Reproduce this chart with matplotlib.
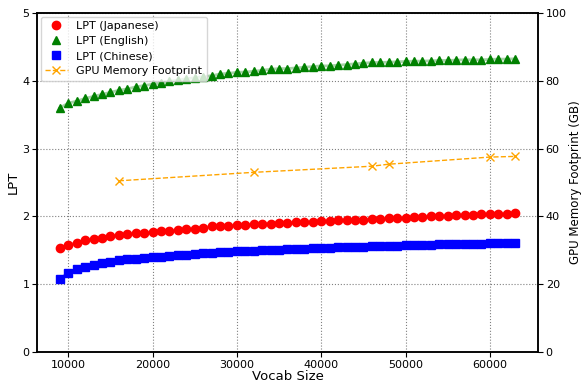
import matplotlib
matplotlib.use("Agg")
import matplotlib.pyplot as plt

vocab = list(range(9000, 64000, 1000))

lpt_japanese = [1.537, 1.58, 1.615, 1.645, 1.665, 1.685, 1.71, 1.72, 1.735, 1.75,
                1.76, 1.77, 1.78, 1.785, 1.795, 1.81, 1.82, 1.835, 1.855, 1.86,
                1.865, 1.87, 1.88, 1.885, 1.89, 1.895, 1.90, 1.91, 1.915, 1.92,
                1.92, 1.93, 1.935, 1.94, 1.94, 1.95, 1.95, 1.96, 1.96, 1.97,
                1.97, 1.98, 1.99, 1.995, 2.0, 2.005, 2.01, 2.015, 2.02, 2.025,
                2.03, 2.03, 2.035, 2.04, 2.045]

lpt_english = [3.60, 3.67, 3.70, 3.74, 3.77, 3.80, 3.83, 3.86, 3.88, 3.91,
               3.93, 3.95, 3.97, 3.99, 4.01, 4.03, 4.045, 4.06, 4.075, 4.10,
               4.11, 4.125, 4.13, 4.14, 4.155, 4.17, 4.18, 4.18, 4.19, 4.20,
               4.21, 4.22, 4.22, 4.23, 4.24, 4.25, 4.26, 4.27, 4.27, 4.275,
               4.28, 4.285, 4.29, 4.29, 4.295, 4.30, 4.30, 4.305, 4.31, 4.31,
               4.31, 4.315, 4.32, 4.32, 4.325]

lpt_chinese = [1.077, 1.17, 1.22, 1.255, 1.28, 1.31, 1.33, 1.35, 1.365, 1.375,
               1.385, 1.395, 1.405, 1.415, 1.425, 1.435, 1.445, 1.455, 1.465, 1.47,
               1.48, 1.485, 1.49, 1.495, 1.50, 1.505, 1.51, 1.515, 1.52, 1.525,
               1.53, 1.535, 1.54, 1.545, 1.55, 1.553, 1.556, 1.56, 1.563, 1.566,
               1.57, 1.574, 1.578, 1.581, 1.584, 1.587, 1.589, 1.592, 1.594, 1.597,
               1.60, 1.602, 1.604, 1.607, 1.61]

gpu_vocab = [16000, 32000, 46000, 48000, 60000, 63000]
gpu_memory = [50.5, 53.0, 54.8, 55.4, 57.5, 57.7]

fig = plt.figure(figsize=(5.81, 3.83), dpi=100)
ax = fig.add_axes([37 / 581, 31 / 383, 501 / 581, 339 / 383])
ax2 = ax.twinx()

ax.plot(vocab, lpt_japanese, color="red", lw=2, alpha=0.35, zorder=2)
h1, = ax.plot(vocab, lpt_japanese, "o", color="red", ms=6, ls="none", label="LPT (Japanese)", zorder=3)
ax.plot(vocab, lpt_english, color="green", lw=2, alpha=0.35, zorder=2)
h2, = ax.plot(vocab, lpt_english, "^", color="green", ms=6, ls="none", label="LPT (English)", zorder=3)
ax.plot(vocab, lpt_chinese, color="blue", lw=2, alpha=0.35, zorder=2)
h3, = ax.plot(vocab, lpt_chinese, "s", color="blue", ms=6, ls="none", label="LPT (Chinese)", zorder=3)

h4, = ax2.plot(gpu_vocab, gpu_memory, marker="x", color="orange", ls="--", lw=1, ms=6,
               label="GPU Memory Footprint")

ax.set_ylim(0, 5)
ax2.set_ylim(0, 100)
ax.set_xlabel("Vocab Size", fontsize=9.5, labelpad=0)
ax.set_ylabel("LPT", fontsize=9.5)
ax.yaxis.set_label_coords(-0.034, 0.5)
ax2.set_ylabel("GPU Memory Footprint (GB)", fontsize=8.5, labelpad=2)
ax.tick_params(labelsize=8, pad=2)
ax2.tick_params(labelsize=8, pad=2)
for a in (ax, ax2):
    for s in a.spines.values():
        s.set_linewidth(1.1)
ax.grid(True, linestyle=":", color="gray", linewidth=0.8)

ax.legend(handles=[h1, h2, h3, h4], loc="upper left", fontsize=8,
          borderaxespad=0.35, labelspacing=0.45)

fig.savefig("out.png", dpi=100)
